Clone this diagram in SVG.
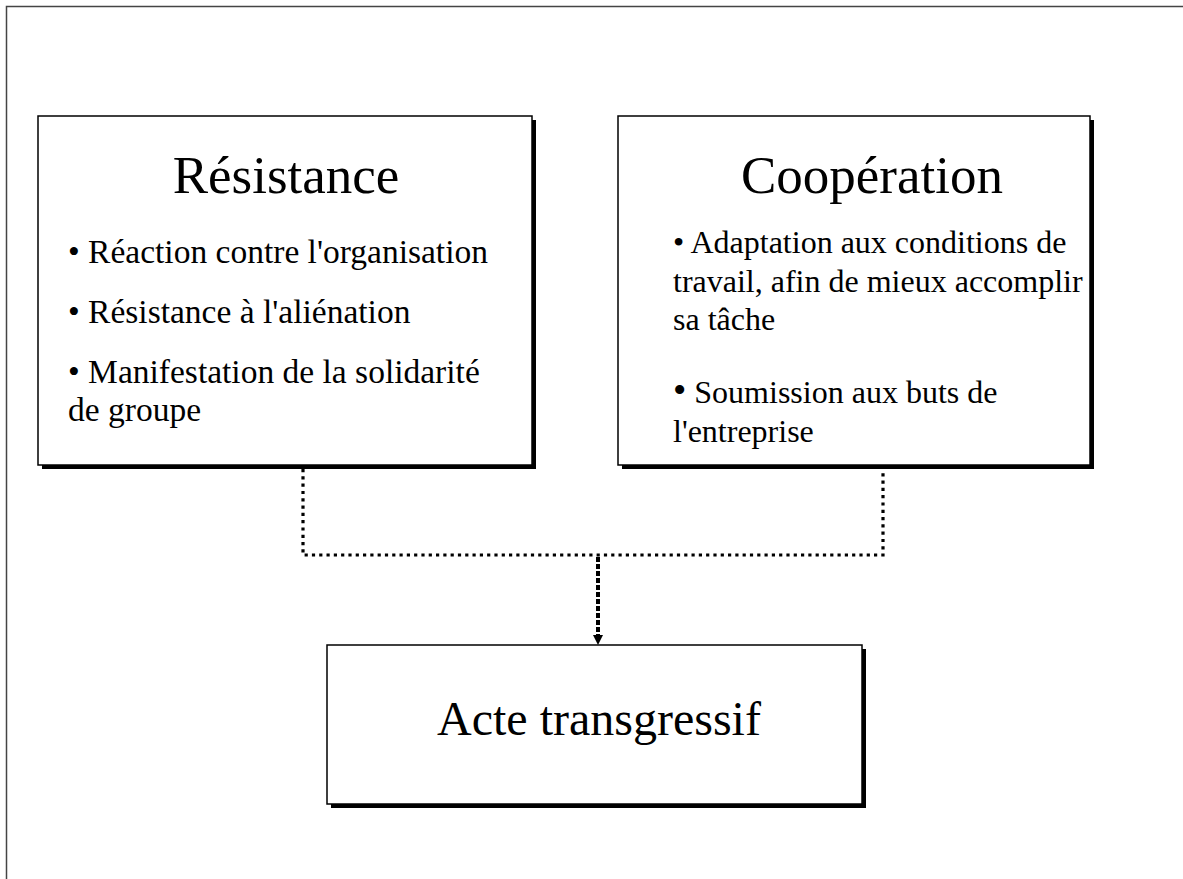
<svg xmlns="http://www.w3.org/2000/svg" width="1183" height="879" viewBox="0 0 1183 879">
<defs>
<style>
.shadow{fill:#000}
.box{fill:#fff;stroke:#000;stroke-width:1.5}
.title{font-family:"Liberation Serif","Times New Roman",serif;font-size:53px;fill:#000;text-anchor:middle}
.body{font-family:"Liberation Serif","Times New Roman",serif;font-size:33.5px;fill:#000}
.body2{font-family:"Liberation Serif","Times New Roman",serif;font-size:32px;fill:#000}
.big{font-family:"Liberation Serif","Times New Roman",serif;font-size:48px;fill:#000;text-anchor:middle}
.dot{fill:none;stroke:#000;stroke-width:3.2;stroke-dasharray:3.2 4.1}
.dense{fill:none;stroke:#000;stroke-width:4;stroke-dasharray:5 2}
</style>
</defs>
<rect width="1183" height="879" fill="#fff"/>
<rect x="6.5" y="6.5" width="1200" height="900" fill="none" stroke="#444" stroke-width="1.5"/>
<g id="resistance">
<rect class="shadow" x="42" y="120" width="494" height="349"/>
<rect class="box" x="38" y="116" width="494" height="349"/>
<text class="title" x="286" y="193">Résistance</text>
<text class="body" x="68" y="263">• Réaction contre l'organisation</text>
<text class="body" x="68" y="323">• Résistance à l'aliénation</text>
<text class="body" x="68" y="383">• Manifestation de la solidarité</text>
<text class="body" x="68" y="421">de groupe</text>
</g>
<g id="cooperation">
<rect class="shadow" x="622" y="120" width="472" height="349"/>
<rect class="box" x="618" y="116" width="472" height="349"/>
<text class="title" x="872" y="193">Coopération</text>
<text class="body2" x="673" y="253">• Adaptation aux conditions de</text>
<text class="body2" x="673" y="292">travail, afin de mieux accomplir</text>
<text class="body2" x="673" y="330">sa tâche</text>
<text class="body2" x="673" y="403"><tspan font-size="38">•</tspan> Soumission aux buts de</text>
<text class="body2" x="673" y="442">l'entreprise</text>
</g>
<g id="acte">
<rect class="shadow" x="331" y="649" width="535" height="159"/>
<rect class="box" x="327" y="645" width="535" height="159"/>
<text class="big" x="599" y="735">Acte transgressif</text>
</g>
<g id="connectors">
<path class="dot" d="M303,469 V555 H883 V469"/>
<path class="dense" d="M598,557 V636"/>
<path d="M593,635 L603,635 L598,645 Z" fill="#000"/>
</g>
</svg>
